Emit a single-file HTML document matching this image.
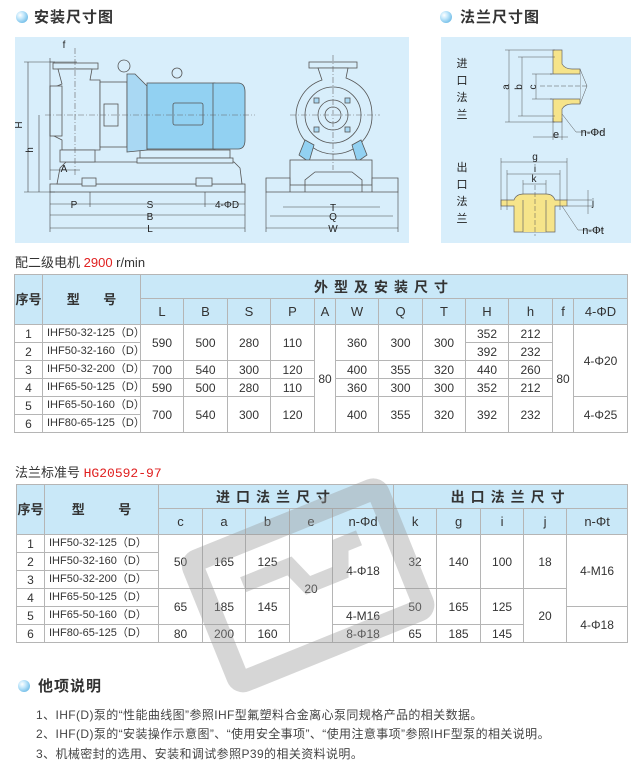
<!DOCTYPE html>
<html><head><meta charset="utf-8">
<style>
*{margin:0;padding:0;box-sizing:border-box}
body{width:640px;height:775px;background:#fff;position:relative;overflow:hidden;font-family:"Liberation Sans","Noto Sans CJK SC",sans-serif;color:#333}
.abs{position:absolute}
.ttl{font-size:15px;font-weight:bold;color:#333;letter-spacing:1px}
.dot{width:12px;height:12px;border-radius:50%;background:radial-gradient(circle at 35% 35%,#fff 0,#bfe6fb 35%,#49a7dc 100%)}
table{border-collapse:collapse;position:absolute;table-layout:fixed}
td{border:1px solid #b5b5b5;text-align:center;font-size:12px;font-family:"Liberation Sans Narrow","Liberation Sans","Noto Sans CJK SC",sans-serif;color:#333;padding:0;line-height:1}
td.h{background:#c9e8f8;font-family:"Liberation Sans","Noto Sans CJK SC",sans-serif;font-size:13px}
td.hb{font-weight:bold;font-size:14px;letter-spacing:6px}
td.m{text-align:left;padding-left:4px;font-size:11px}
.sub{font-size:13px;color:#333}
.red{color:#e02020}
.note{font-size:12px;letter-spacing:0.4px;color:#444;position:absolute;left:36px}
</style></head><body>

<div class="abs dot" style="left:16px;top:11px"></div>
<div class="abs ttl" style="left:34px;top:6px">安装尺寸图</div>
<div class="abs dot" style="left:440px;top:11px"></div>
<div class="abs ttl" style="left:460px;top:6px">法兰尺寸图</div>

<svg class="abs" style="left:0;top:0" width="640" height="250" viewBox="0 0 640 250">
<rect x="15" y="37" width="394" height="206" fill="#d8eefb"/>
<rect x="441" y="37" width="190" height="206" fill="#d8eefb"/>
<g stroke="#555" stroke-width="0.8" fill="#d8eefb">
<rect x="50" y="184" width="195" height="8"/>
<path d="M57 184 L60 168 L66 162 L234 162 L240 168 L242 184 Z"/>
<rect x="82" y="178" width="14" height="8"/>
<rect x="196" y="178" width="16" height="8"/>
<rect x="140" y="150" width="90" height="8"/>
<rect x="137" y="158" width="96" height="5"/>
<rect x="53" y="63" width="45" height="6"/>
<path d="M58 69 L92 69 L90 80 L100 80 L100 150 L62 150 L62 140 L52 135 L52 88 L62 84 Z"/>
<rect x="50" y="86" width="12" height="50"/>
<rect x="100" y="82" width="27" height="65"/>
<path d="M60 150 L95 150 L95 162 L60 162 Z"/>
<rect x="104" y="104" width="14" height="22"/>
<path d="M127 74 L135 74 L147 86 L147 150 L127 152 Z" fill="#a9d8f3"/>
<circle cx="124" cy="66" r="6" fill="none"/>
<circle cx="177" cy="73" r="5" fill="none"/>
<rect x="147" y="83" width="68" height="66" fill="#92d1f2"/>
<path d="M213 83 L238 83 Q245 83 245 92 L245 140 Q245 149 238 149 L213 149 Z" fill="#92d1f2"/>
<rect x="173" y="103" width="30" height="22" rx="2" fill="#92d1f2"/>
<rect x="309" y="62" width="48" height="6"/>
<path d="M318 68 L348 68 L346 78 Q372 88 372 115 A38 38 0 1 1 322 80 Z"/>
<circle cx="333" cy="115" r="28" fill="none"/>
<circle cx="333" cy="115" r="15" fill="none"/>
<circle cx="333" cy="115" r="8" fill="none"/>
<g fill="#a9d8f3"><rect x="314" y="98" width="5" height="5"/><rect x="345" y="98" width="5" height="5"/><rect x="314" y="127" width="5" height="5"/><rect x="345" y="127" width="5" height="5"/></g>
<path d="M299 155 L305 140 L314 145 L309 162 Z" fill="#92d1f2"/>
<path d="M367 155 L361 140 L352 145 L357 162 Z" fill="#92d1f2"/>
<rect x="290" y="160" width="82" height="25"/>
<path d="M266 185 L266 178 L290 178 L290 192 L372 192 L372 178 L398 178 L398 192 L266 192 Z"/>
<path d="M305 192 L305 180 L315 172 L352 172 L362 180 L362 192" fill="none"/>
</g>
<g stroke="#666" stroke-width="0.6" fill="none" stroke-dasharray="6 2 1 2">
<line x1="45" y1="115" x2="255" y2="115"/><line x1="75" y1="48" x2="75" y2="175"/>
<line x1="290" y1="115" x2="380" y2="115"/><line x1="333" y1="55" x2="333" y2="170"/>
</g>
<g stroke="#444" stroke-width="0.6" fill="none">
<line x1="50" y1="204" x2="245" y2="204"/><line x1="50" y1="215" x2="245" y2="215"/><line x1="50" y1="228" x2="245" y2="228"/>
<line x1="50" y1="192" x2="50" y2="232"/><line x1="245" y1="192" x2="245" y2="232"/><line x1="90" y1="192" x2="90" y2="207"/><line x1="205" y1="192" x2="205" y2="207"/>
<line x1="28" y1="62" x2="28" y2="192"/><line x1="39" y1="115" x2="39" y2="192"/><line x1="24" y1="192" x2="55" y2="192"/><line x1="24" y1="62" x2="55" y2="62"/>
<line x1="50" y1="62" x2="77" y2="62"/><line x1="50" y1="58" x2="50" y2="180"/><line x1="50" y1="170" x2="80" y2="170"/>
<line x1="266" y1="228" x2="398" y2="228"/><line x1="270" y1="216" x2="393" y2="216"/><line x1="283" y1="207" x2="380" y2="207"/>
<line x1="266" y1="192" x2="266" y2="232"/><line x1="398" y1="192" x2="398" y2="232"/>
</g>
<g font-family="Liberation Sans" font-size="10" fill="#222" text-anchor="middle">
<text x="64" y="48">f</text><text x="74" y="208">P</text><text x="150" y="208">S</text><text x="150" y="220">B</text><text x="150" y="232">L</text>
<text x="227" y="208">4-ΦD</text><text x="64" y="172">A</text>
<text x="22" y="125" transform="rotate(-90 22 125)">H</text><text x="33" y="150" transform="rotate(-90 33 150)">h</text>
<text x="333" y="211">T</text><text x="333" y="220">Q</text><text x="333" y="232">W</text>
</g>
<!-- flanges -->
<g stroke="#666" stroke-width="0.7" fill="#f6e48a">
<path d="M553 50 L562 50 L562 64 Q565 69 572 69 L580 69 L580 104 L572 104 Q565 104 562 109 L562 122 L553 122 Z"/>
<rect x="550" y="74" width="30" height="25" fill="#d8eefb" stroke="none"/>
<line x1="550" y1="74" x2="580" y2="74"/><line x1="550" y1="99" x2="580" y2="99"/>
<path d="M501 200 L514 200 Q516 194 524 194 L546 194 Q553 194 555 200 L567 200 L567 206 L555 206 L555 232 L514 232 L514 206 L501 206 Z"/>
<rect x="523" y="196" width="23" height="36" fill="#f6e48a" stroke="none"/>
<line x1="523" y1="200" x2="523" y2="232"/><line x1="546" y1="200" x2="546" y2="232"/>
</g>
<g stroke="#555" stroke-width="0.5" fill="none">
<line x1="509" y1="50" x2="509" y2="122"/><line x1="522" y1="57" x2="522" y2="116"/><line x1="536" y1="74" x2="536" y2="99"/>
<line x1="505" y1="50" x2="555" y2="50"/><line x1="505" y1="122" x2="555" y2="122"/><line x1="518" y1="57" x2="555" y2="57"/><line x1="518" y1="116" x2="555" y2="116"/>
<line x1="532" y1="74" x2="552" y2="74"/><line x1="532" y1="99" x2="552" y2="99"/>
<line x1="540" y1="86" x2="588" y2="86" stroke-dasharray="5 2"/>
<line x1="580" y1="69" x2="587" y2="86"/><line x1="580" y1="104" x2="587" y2="86"/>
<line x1="533" y1="137" x2="568" y2="137"/><line x1="553" y1="118" x2="553" y2="140"/><line x1="562" y1="118" x2="562" y2="140"/>
<line x1="562" y1="114" x2="576" y2="132"/><line x1="576" y1="132" x2="604" y2="132"/>
<line x1="501" y1="162" x2="567" y2="162"/><line x1="507" y1="174" x2="560" y2="174"/><line x1="523" y1="184" x2="546" y2="184"/>
<line x1="501" y1="158" x2="501" y2="210"/><line x1="567" y1="158" x2="567" y2="200"/><line x1="507" y1="170" x2="507" y2="210"/><line x1="560" y1="170" x2="560" y2="210"/>
<line x1="523" y1="180" x2="523" y2="194"/><line x1="546" y1="180" x2="546" y2="194"/>
<line x1="535" y1="185" x2="535" y2="236" stroke-dasharray="5 2"/>
<line x1="567" y1="200" x2="592" y2="200"/><line x1="567" y1="206" x2="592" y2="206"/><line x1="588" y1="190" x2="588" y2="214"/>
<line x1="562" y1="206" x2="578" y2="230"/><line x1="578" y1="230" x2="604" y2="230"/>
</g>
<g font-family="Liberation Sans,Noto Sans CJK SC" font-size="11" fill="#222" text-anchor="middle">
<text x="462" y="67">进</text><text x="462" y="84">口</text><text x="462" y="101">法</text><text x="462" y="118">兰</text>
<text x="462" y="171">出</text><text x="462" y="188">口</text><text x="462" y="205">法</text><text x="462" y="222">兰</text>
<text x="506" y="90" font-size="10" transform="rotate(-90 506 87)">a</text><text x="519" y="90" font-size="10" transform="rotate(-90 519 87)">b</text><text x="533" y="90" font-size="10" transform="rotate(-90 533 87)">c</text>
<text x="556" y="138" font-size="11">e</text><text x="593" y="136" font-size="11">n-Φd</text>
<text x="535" y="160" font-size="10">g</text><text x="535" y="172" font-size="10">i</text><text x="534" y="182" font-size="10">k</text>
<text x="593" y="234" font-size="11">n-Φt</text><text x="593" y="206" font-size="10">j</text>
</g>
</svg>

<div class="abs sub" style="left:15px;top:252px">配二级电机 <span class="red">2900</span> r/min</div>
<table style="left:14px;top:274px;width:613px">
<colgroup><col style="width:28px"><col style="width:98px"><col style="width:43px"><col style="width:44px"><col style="width:43px"><col style="width:44px"><col style="width:21px"><col style="width:43px"><col style="width:44px"><col style="width:43px"><col style="width:43px"><col style="width:44px"><col style="width:21px"><col style="width:54px"></colgroup>
<tr style="height:24px"><td class="h" rowspan="2" style="font-weight:bold">序号</td><td class="h" rowspan="2" style="font-weight:bold;word-spacing:20px">型 号</td><td class="h hb" colspan="12">外型及安装尺寸</td></tr>
<tr style="height:26px"><td class="h">L</td><td class="h">B</td><td class="h">S</td><td class="h">P</td><td class="h">A</td><td class="h">W</td><td class="h">Q</td><td class="h">T</td><td class="h">H</td><td class="h">h</td><td class="h">f</td><td class="h">4-ΦD</td></tr>
<tr style="height:18px"><td>1</td><td class="m">IHF50-32-125（D）</td><td rowspan="2">590</td><td rowspan="2">500</td><td rowspan="2">280</td><td rowspan="2">110</td><td rowspan="6">80</td><td rowspan="2">360</td><td rowspan="2">300</td><td rowspan="2">300</td><td>352</td><td>212</td><td rowspan="6">80</td><td rowspan="4">4-Φ20</td></tr>
<tr style="height:18px"><td>2</td><td class="m">IHF50-32-160（D）</td><td>392</td><td>232</td></tr>
<tr style="height:18px"><td>3</td><td class="m">IHF50-32-200（D）</td><td>700</td><td>540</td><td>300</td><td>120</td><td>400</td><td>355</td><td>320</td><td>440</td><td>260</td></tr>
<tr style="height:18px"><td>4</td><td class="m">IHF65-50-125（D）</td><td>590</td><td>500</td><td>280</td><td>110</td><td>360</td><td>300</td><td>300</td><td>352</td><td>212</td></tr>
<tr style="height:18px"><td>5</td><td class="m">IHF65-50-160（D）</td><td rowspan="2">700</td><td rowspan="2">540</td><td rowspan="2">300</td><td rowspan="2">120</td><td rowspan="2">400</td><td rowspan="2">355</td><td rowspan="2">320</td><td rowspan="2">392</td><td rowspan="2">232</td><td rowspan="2">4-Φ25</td></tr>
<tr style="height:18px"><td>6</td><td class="m">IHF80-65-125（D）</td></tr>
</table>

<div class="abs sub" style="left:15px;top:462px">法兰标准号 <span class="red" style="font-family:'Liberation Mono',monospace">HG20592-97</span></div>
<table style="left:16px;top:484px;width:611px">
<colgroup><col style="width:28px"><col style="width:114px"><col style="width:44px"><col style="width:43px"><col style="width:44px"><col style="width:43px"><col style="width:61px"><col style="width:43px"><col style="width:44px"><col style="width:43px"><col style="width:43px"><col style="width:61px"></colgroup>
<tr style="height:24px"><td class="h" rowspan="2" style="font-weight:bold">序号</td><td class="h" rowspan="2" style="font-weight:bold;word-spacing:30px">型 号</td><td class="h hb" colspan="5">进口法兰尺寸</td><td class="h hb" colspan="5">出口法兰尺寸</td></tr>
<tr style="height:26px"><td class="h">c</td><td class="h">a</td><td class="h">b</td><td class="h">e</td><td class="h">n-Φd</td><td class="h">k</td><td class="h">g</td><td class="h">i</td><td class="h">j</td><td class="h">n-Φt</td></tr>
<tr style="height:18px"><td>1</td><td class="m">IHF50-32-125（D）</td><td rowspan="3">50</td><td rowspan="3">165</td><td rowspan="3">125</td><td rowspan="6">20</td><td rowspan="4">4-Φ18</td><td rowspan="3">32</td><td rowspan="3">140</td><td rowspan="3">100</td><td rowspan="3">18</td><td rowspan="4">4-M16</td></tr>
<tr style="height:18px"><td>2</td><td class="m">IHF50-32-160（D）</td></tr>
<tr style="height:18px"><td>3</td><td class="m">IHF50-32-200（D）</td></tr>
<tr style="height:18px"><td>4</td><td class="m">IHF65-50-125（D）</td><td rowspan="2">65</td><td rowspan="2">185</td><td rowspan="2">145</td><td rowspan="2">50</td><td rowspan="2">165</td><td rowspan="2">125</td><td rowspan="3">20</td></tr>
<tr style="height:18px"><td>5</td><td class="m">IHF65-50-160（D）</td><td>4-M16</td><td rowspan="2">4-Φ18</td></tr>
<tr style="height:18px"><td>6</td><td class="m">IHF80-65-125（D）</td><td>80</td><td>200</td><td>160</td><td>8-Φ18</td><td>65</td><td>185</td><td>145</td></tr>
</table>

<svg class="abs" style="left:0;top:0" width="640" height="775">
<g transform="rotate(-22 310 590)" fill="none" stroke="#999" stroke-opacity="0.4" stroke-width="22">
<rect x="210" y="520" width="200" height="130" rx="6"/>
<path d="M250 560 L300 560 L310 585 L345 585 L355 560 L375 560" stroke-width="16"/>
</g>
</svg>

<div class="abs dot" style="left:18px;top:680px"></div>
<div class="abs ttl" style="left:38px;top:675px">他项说明</div>
<div class="note" style="top:706px">1、IHF(D)泵的“性能曲线图”参照IHF型氟塑料合金离心泵同规格产品的相关数据。</div>
<div class="note" style="top:725px">2、IHF(D)泵的“安装操作示意图”、“使用安全事项”、“使用注意事项”参照IHF型泵的相关说明。</div>
<div class="note" style="top:745px">3、机械密封的选用、安装和调试参照P39的相关资料说明。</div>
</body></html>
